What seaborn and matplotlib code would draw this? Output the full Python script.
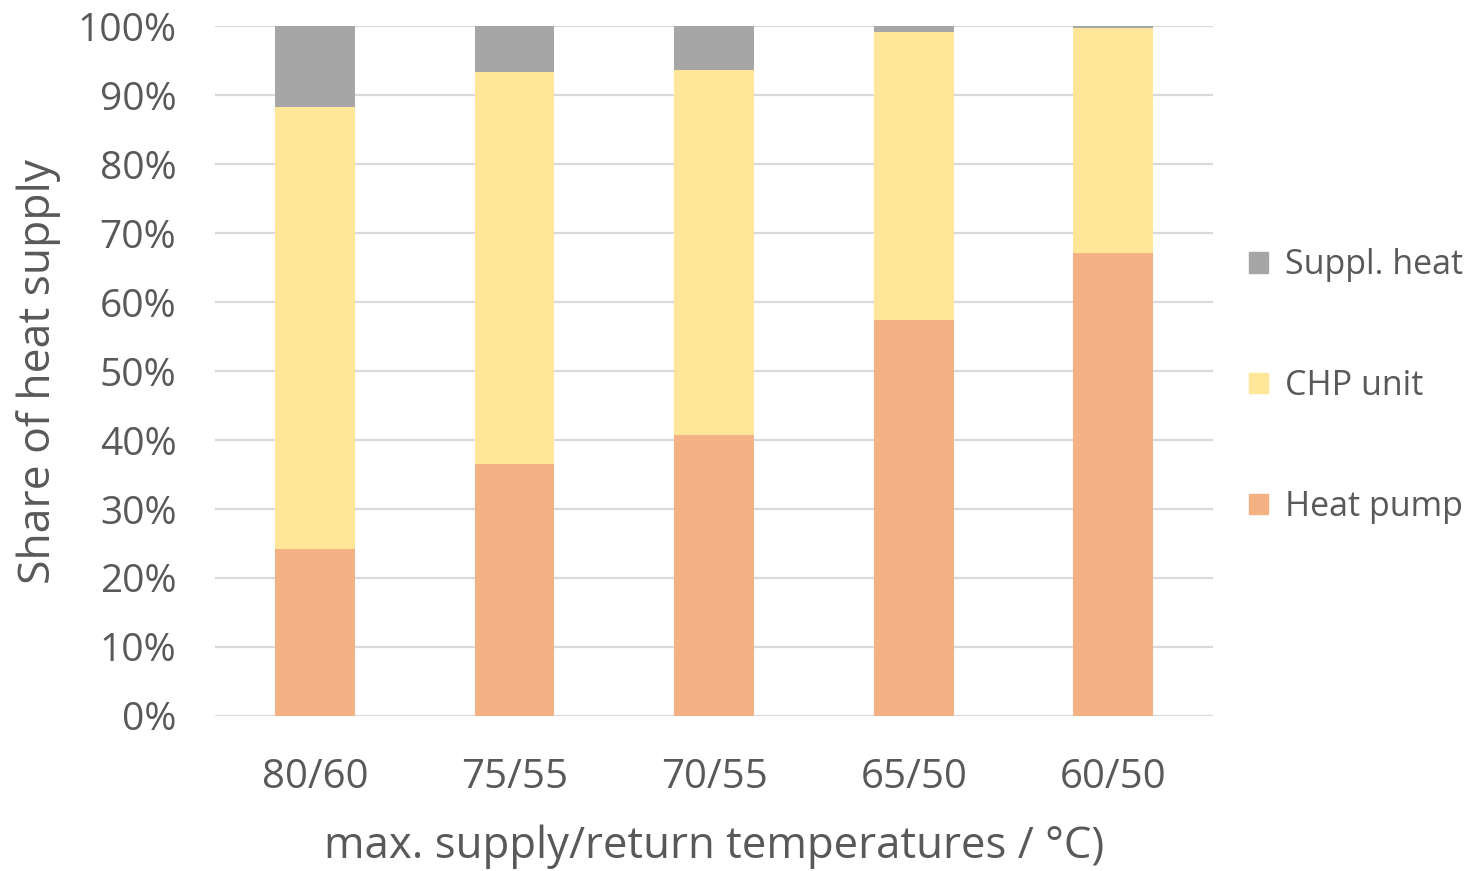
import numpy as np
import pandas as pd
import seaborn as sns
import matplotlib.pyplot as plt
from matplotlib.patches import Patch
from matplotlib.ticker import PercentFormatter

# dados (percentual da oferta de calor)
temperaturas = ['80/60', '75/55', '70/55', '65/50', '60/50']
bomba_calor = [24.2, 36.5, 40.7, 57.4, 67.1]
chp = [64.1, 56.8, 52.9, 41.7, 32.7]
suplementar = [11.7, 6.7, 6.4, 0.9, 0.2]

cores = {'Heat pump': '#F4B183', 'CHP unit': '#FFE699', 'Suppl. heat': '#A6A6A6'}
cinza_texto = '#595959'

sns.set_theme(style='white')
plt.rcParams['font.family'] = ['Open Sans', 'DejaVu Sans']

df = pd.DataFrame({'temp': temperaturas, 'Heat pump': bomba_calor,
                   'CHP unit': chp, 'Suppl. heat': suplementar})

fig = plt.figure(figsize=(14.74, 8.71), dpi=100)
ax = fig.add_axes([0.146, 0.178, 0.677, 0.792])

# barras empilhadas: desenha cada série com o acumulado anterior como base
base = np.zeros(len(df))
for serie in ['Heat pump', 'CHP unit', 'Suppl. heat']:
    sns.barplot(data=df, x='temp', y=serie, color=cores[serie], width=0.4,
                bottom=base, ax=ax, saturation=1, linewidth=0, zorder=3)
    base = base + df[serie].values

ax.set_ylim(0, 100)
ax.set_xlim(-0.5, 4.5)
ax.set_yticks(np.arange(0, 101, 10))
ax.yaxis.set_major_formatter(PercentFormatter(decimals=0))
ax.grid(axis='y', color='#D9D9D9', linewidth=1.6, zorder=0)
ax.set_axisbelow(True)
for lado in ['top', 'right', 'left', 'bottom']:
    ax.spines[lado].set_visible(False)
ax.axhline(0, color='#D9D9D9', linewidth=1.8, zorder=1)

ax.tick_params(axis='y', length=0, labelsize=28, colors=cinza_texto, pad=28)
ax.tick_params(axis='x', length=0, labelsize=29, colors=cinza_texto, pad=30)
ax.set_xlabel('max. supply/return temperatures / °C)', fontsize=31.5,
              color=cinza_texto, labelpad=19)
ax.set_ylabel('Share of heat supply', fontsize=32, color=cinza_texto, labelpad=12)

alcas = [Patch(color=cores[s]) for s in ['Suppl. heat', 'CHP unit', 'Heat pump']]
ax.legend(alcas, ['Suppl. heat', 'CHP unit', 'Heat pump'], frameon=False,
          fontsize=24.5, labelcolor=cinza_texto, loc='center left',
          bbox_to_anchor=(1.019, 0.478), handlelength=0.55, handleheight=0.55,
          handletextpad=0.5, labelspacing=2.55, borderpad=0)

fig.savefig('out.png', dpi=100)
